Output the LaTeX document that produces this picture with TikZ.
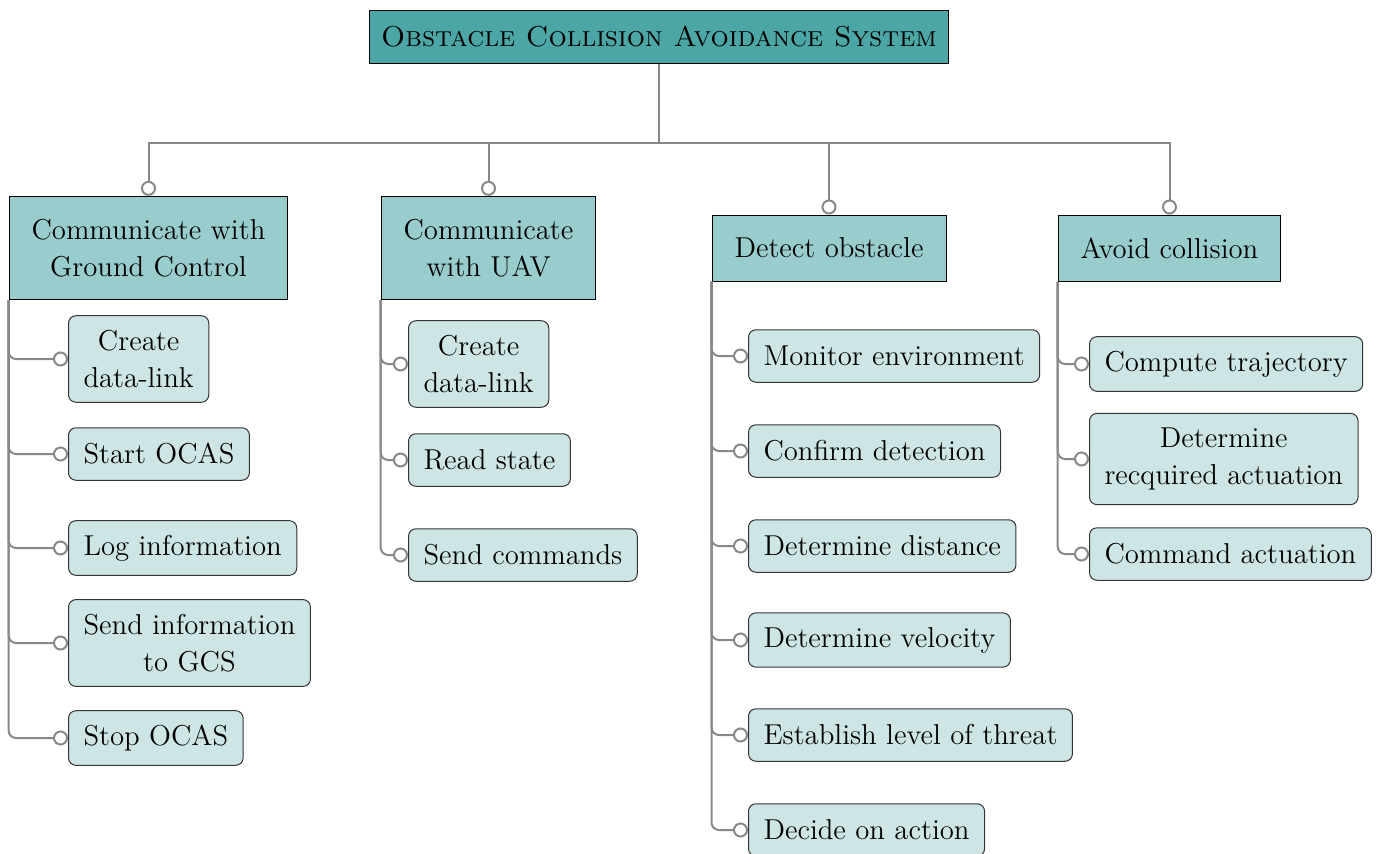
\documentclass[tikz,border=0pt]{standalone}
\usetikzlibrary{arrows.meta}

\definecolor{rootteal}{RGB}{77,166,166}
\definecolor{midteal}{RGB}{153,204,204}
\definecolor{lightteal}{RGB}{205,230,229}
\definecolor{linkgray}{RGB}{136,136,136}

\begin{document}
\begin{tikzpicture}[x=0.4pt,y=-0.4pt,font=\fontsize{11.5}{15}\selectfont,
    root node/.style={rectangle,draw,fill=rootteal,inner xsep=4.8pt,inner ysep=5pt,minimum height=21pt},
    task node/.style={rectangle,draw,fill=midteal,align=center,inner xsep=9pt,inner ysep=9pt,minimum height=26.4pt},
    sub node/.style={rectangle,rounded corners=3pt,draw=black!80,fill=lightteal,align=center,inner xsep=6pt,inner ysep=5.7pt,minimum height=21pt,anchor=west},
    link/.style={draw=linkgray,line width=0.8pt,-{Circle[open,length=6pt,width=6pt]}},
    sublink/.style={link,rounded corners=3pt}]
    \useasboundingbox (0,0) rectangle (1379,853);

    \node [root node](ocas) at (659,37){\textsc{Obstacle Collision Avoidance System}};

    \node [task node](gc) at (148.5,248){Communicate with\\Ground Control};
    \node [task node](uav) at (488.5,248){Communicate\\with UAV};
    \node [task node](det) at (829,248){Detect obstacle};
    \node [task node](avoid) at (1169.5,248){Avoid collision};

    % ground control
    \node [sub node](gc1) at (68,359){Create\\data-link};
    \node [sub node](gc2) at (68,454){Start OCAS};
    \node [sub node](gc3) at (68,548){Log information};
    \node [sub node](gc4) at (68,643){Send information\\to GCS};
    \node [sub node](gc5) at (68,738){Stop OCAS};

    % uav
    \node [sub node](uav1) at (408,364){Create\\data-link};
    \node [sub node](uav2) at (408,460){Read state};
    \node [sub node](uav3) at (408,555){Send commands};

    % detection
    \node [sub node](det1) at (748,356){Monitor environment};
    \node [sub node](det2) at (748,451){Confirm detection};
    \node [sub node](det3) at (748,546){Determine distance};
    \node [sub node](det4) at (748,640){Determine velocity};
    \node [sub node](det5) at (748,735){Establish level of threat};
    \node [sub node](det6) at (748,830){Decide on action};

    % avoidance
    \node [sub node](avoid1) at (1089,364){Compute trajectory};
    \node [sub node](avoid2) at (1089,459){Determine\\recquired actuation};
    \node [sub node](avoid3) at (1089,554){Command actuation};

    \foreach \t in {gc,uav,det,avoid}
        \draw [link] (ocas.south) -- ++(0,79) -| (\t.north);

    \foreach \s in {1,...,5}
        \draw [sublink] (gc.south west) |- (gc\s.west);
    \foreach \s in {1,...,3}
        \draw [sublink] (uav.south west) |- (uav\s.west);
    \foreach \s in {1,...,6}
        \draw [sublink] (det.south west) |- (det\s.west);
    \foreach \s in {1,...,3}
        \draw [sublink] (avoid.south west) |- (avoid\s.west);
\end{tikzpicture}
\end{document}
